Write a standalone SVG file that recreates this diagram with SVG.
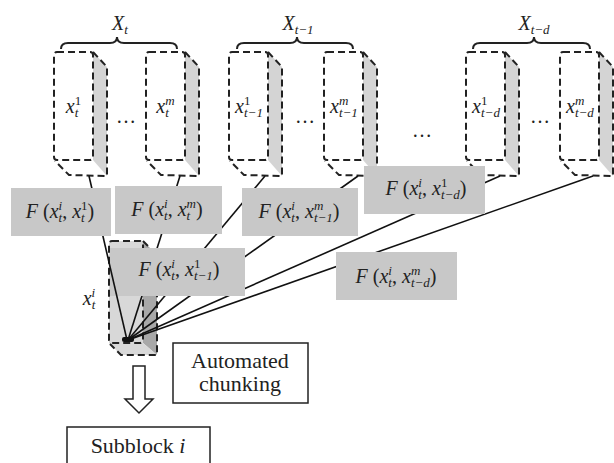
<svg xmlns="http://www.w3.org/2000/svg" xmlns:xlink="http://www.w3.org/1999/xlink" width="614" height="463" viewBox="0 0 614 463">
<style>
.m{font-family:"Liberation Serif","Times New Roman",serif;font-size:20px;fill:#222}
.i{font-style:italic}
.s{font-size:13px}
.t{font-family:"Liberation Serif","Times New Roman",serif;font-size:22px;fill:#222;text-anchor:middle}
.c{text-anchor:middle}
.d{fill:none;stroke:#222;stroke-width:2;stroke-dasharray:7 4}
.br{fill:none;stroke:#222;stroke-width:2}
.gb{fill:#c8c8c8}
.ln{stroke:#111;stroke-width:1.6;fill:none}
.bx{fill:#fff;stroke:#222;stroke-width:1.5}
</style>
<defs>
<g id="col">
<polygon points="39,52 53,67 53,176 39,160" fill="#d4d4d4"/>
<rect x="0" y="52" width="39" height="108" rx="3" class="d"/>
<path d="M39,52 L53,67 L53,176 L15,175 L1,161" class="d"/>
</g>
</defs>
<rect width="614" height="463" fill="#fff"/>

<g id="brace-Xt">
<path class="br" d="M61,49 Q61,43 68,43 L110,43 Q117,43 117,37 Q117,43 124,43 L170,43 Q177,43 177,49"/>
<text class="m c" x="120" y="30"><tspan class="i">X</tspan><tspan class="s i" dy="4">t</tspan></text>
</g>
<g id="brace-Xt1">
<path class="br" d="M237,49 Q237,43 244,43 L290,43 Q297,43 297,37 Q297,43 304,43 L346,43 Q353,43 353,49"/>
<text class="m c" x="298" y="30"><tspan class="i">X</tspan><tspan class="s i" dy="4">t−1</tspan></text>
</g>
<g id="brace-Xtd">
<path class="br" d="M473,49 Q473,43 480,43 L527,43 Q534,43 534,37 Q534,43 541,43 L583,43 Q590,43 590,49"/>
<text class="m c" x="534" y="30"><tspan class="i">X</tspan><tspan class="s i" dy="4">t−d</tspan></text>
</g>

<g id="col-t1"><use xlink:href="#col" x="54"/>
<text class="m c" x="73.5" y="113"><tspan class="i">x</tspan><tspan class="s" dy="-8">1</tspan><tspan class="s i" dx="-6.5" dy="12">t</tspan></text></g>
<g id="col-tm"><use xlink:href="#col" x="146"/>
<text class="m c" x="165.5" y="113"><tspan class="i">x</tspan><tspan class="s i" dy="-8">m</tspan><tspan class="s i" dx="-9.4" dy="12">t</tspan></text></g>
<g id="col-t1-1"><use xlink:href="#col" x="229"/>
<text class="m c" x="249" y="113"><tspan class="i">x</tspan><tspan class="s" dy="-8">1</tspan><tspan class="s i" dx="-6.5" dy="12">t−1</tspan></text></g>
<g id="col-t1-m"><use xlink:href="#col" x="324"/>
<text class="m c" x="344" y="113"><tspan class="i">x</tspan><tspan class="s i" dy="-8">m</tspan><tspan class="s i" dx="-9.4" dy="12">t−1</tspan></text></g>
<g id="col-td-1"><use xlink:href="#col" x="466"/>
<text class="m c" x="486" y="113"><tspan class="i">x</tspan><tspan class="s" dy="-8">1</tspan><tspan class="s i" dx="-6.5" dy="12">t−d</tspan></text></g>
<g id="col-td-m"><use xlink:href="#col" x="560"/>
<text class="m c" x="580" y="113"><tspan class="i">x</tspan><tspan class="s i" dy="-8">m</tspan><tspan class="s i" dx="-9.4" dy="12">t−d</tspan></text></g>

<g id="ellipses">
<text class="m c" x="126" y="123">…</text>
<text class="m c" x="305" y="123">…</text>
<text class="m c" x="540" y="123">…</text>
<text class="m c" x="422" y="137">…</text>
</g>

<g id="block-xti">
<polygon points="109,241 143,241 143,343 109,343" fill="#d8d8d8"/>
<polygon points="143,241 157,255 157,355 143,343" fill="#a8a8a8"/>
<polygon points="109,343 143,343 157,355 121,355" fill="#d8d8d8"/>
<rect x="109" y="241" width="34" height="102" rx="3" class="d"/>
<path d="M143,241 L157,255 L157,355 L121,355 L110,344" class="d"/>
<text class="m c" x="89" y="305"><tspan class="i">x</tspan><tspan class="s i" dy="-8">i</tspan><tspan class="s i" dx="-3.6" dy="12">t</tspan></text>
</g>

<g id="connectors">
<line class="ln" x1="180" y1="176" x2="128" y2="340"/>
<line class="ln" x1="265" y1="176" x2="128" y2="340"/>
<line class="ln" x1="358" y1="176" x2="128" y2="340"/>
<line class="ln" x1="500" y1="176" x2="128" y2="340"/>
<line class="ln" x1="593" y1="176" x2="128" y2="340"/>
<rect x="122" y="337" width="12" height="5" rx="2" fill="#111"/>
</g>

<g id="F-t1-1">
<rect class="gb" x="110" y="248" width="135" height="48"/>
<text class="m c" x="179" y="276"><tspan class="i">F</tspan> (<tspan class="i">x</tspan><tspan class="s i" dy="-8">i</tspan><tspan class="s i" dx="-3.6" dy="12">t</tspan><tspan dy="-4">, </tspan><tspan class="i">x</tspan><tspan class="s" dy="-8">1</tspan><tspan class="s i" dx="-6.5" dy="12">t−1</tspan><tspan dy="-4">)</tspan></text>
</g>

<g id="connectors-front">
<line class="ln" x1="89" y1="176" x2="127" y2="340"/>
</g>

<g id="F-t-1">
<rect class="gb" x="11" y="188" width="100" height="48"/>
<text class="m c" x="60" y="218"><tspan class="i">F</tspan> (<tspan class="i">x</tspan><tspan class="s i" dy="-8">i</tspan><tspan class="s i" dx="-3.6" dy="12">t</tspan><tspan dy="-4">, </tspan><tspan class="i">x</tspan><tspan class="s" dy="-8">1</tspan><tspan class="s i" dx="-6.5" dy="12">t</tspan><tspan dx="2.9" dy="-4">)</tspan></text>
</g>
<g id="F-t-m">
<rect class="gb" x="115" y="186" width="107" height="48"/>
<text class="m c" x="167" y="216"><tspan class="i">F</tspan> (<tspan class="i">x</tspan><tspan class="s i" dy="-8">i</tspan><tspan class="s i" dx="-3.6" dy="12">t</tspan><tspan dy="-4">, </tspan><tspan class="i">x</tspan><tspan class="s i" dy="-8">m</tspan><tspan class="s i" dx="-9.4" dy="12">t</tspan><tspan dx="5.8" dy="-4">)</tspan></text>
</g>
<g id="F-t1-m">
<rect class="gb" x="242" y="188" width="116" height="48"/>
<text class="m c" x="299" y="218"><tspan class="i">F</tspan> (<tspan class="i">x</tspan><tspan class="s i" dy="-8">i</tspan><tspan class="s i" dx="-3.6" dy="12">t</tspan><tspan dy="-4">, </tspan><tspan class="i">x</tspan><tspan class="s i" dy="-8">m</tspan><tspan class="s i" dx="-9.4" dy="12">t−1</tspan><tspan dy="-4">)</tspan></text>
</g>
<g id="F-td-1">
<rect class="gb" x="364" y="166" width="121" height="48"/>
<text class="m c" x="426" y="195"><tspan class="i">F</tspan> (<tspan class="i">x</tspan><tspan class="s i" dy="-8">i</tspan><tspan class="s i" dx="-3.6" dy="12">t</tspan><tspan dy="-4">, </tspan><tspan class="i">x</tspan><tspan class="s" dy="-8">1</tspan><tspan class="s i" dx="-6.5" dy="12">t−d</tspan><tspan dy="-4">)</tspan></text>
</g>
<g id="F-td-m">
<rect class="gb" x="336" y="252" width="121" height="48"/>
<text class="m c" x="396" y="283"><tspan class="i">F</tspan> (<tspan class="i">x</tspan><tspan class="s i" dy="-8">i</tspan><tspan class="s i" dx="-3.6" dy="12">t</tspan><tspan dy="-4">, </tspan><tspan class="i">x</tspan><tspan class="s i" dy="-8">m</tspan><tspan class="s i" dx="-9.4" dy="12">t−d</tspan><tspan dy="-4">)</tspan></text>
</g>

<g id="automated-chunking">
<rect class="bx" x="173" y="343" width="135" height="60"/>
<text class="t" x="240" y="368">Automated</text>
<text class="t" x="240" y="391">chunking</text>
</g>

<g id="arrow-down">
<polygon class="bx" points="133,366 145,366 145,399 153,399 139,413 125,399 133,399"/>
</g>

<g id="subblock">
<rect class="bx" x="67" y="427" width="143" height="50"/>
<text class="t" x="138" y="453">Subblock <tspan class="i">i</tspan></text>
</g>
</svg>
